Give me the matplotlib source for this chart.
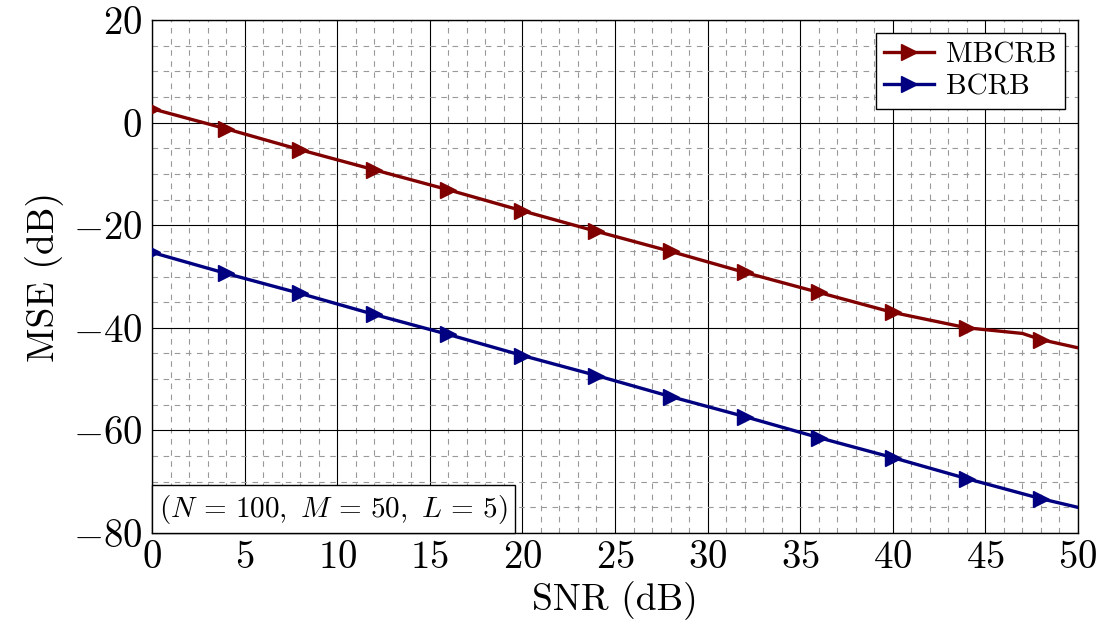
import numpy as np
import matplotlib.pyplot as plt
from matplotlib.ticker import MultipleLocator, FuncFormatter
from matplotlib.offsetbox import AnchoredText

plt.rcParams['font.family'] = 'cmr10'
plt.rcParams['mathtext.fontset'] = 'cm'
plt.rcParams['axes.formatter.use_mathtext'] = True

# SNR grid and bound values (dB)
snr_mb = [0, 4, 8, 12, 16, 20, 24, 28, 32, 36, 40, 44, 47, 48, 50]
mbcrb = [2.7, -1.2, -5.3, -9.2, -13.1, -17.2, -21.2, -25.1, -29.2, -33.1, -37.0, -40.0, -41.1, -42.3, -43.9]
mb_marks = [0, 1, 2, 3, 4, 5, 6, 7, 8, 9, 10, 11, 13]

snr_b = [0, 4, 8, 12, 16, 20, 24, 28, 32, 36, 40, 44, 48, 50]
bcrb = [-25.3, -29.4, -33.3, -37.4, -41.3, -45.4, -49.3, -53.4, -57.3, -61.4, -65.3, -69.4, -73.3, -75.0]
b_marks = list(range(13))

red = '#800000'
blue = '#000080'

fig = plt.figure(figsize=(11.07, 6.32), dpi=100)
ax = fig.add_axes([0.1373, 0.1566, 0.8365, 0.8118])

ax.plot(snr_mb, mbcrb, color=red, lw=2.4, marker='>', ms=11, markevery=mb_marks, label='MBCRB', zorder=3)
ax.plot(snr_b, bcrb, color=blue, lw=2.4, marker='>', ms=11, markevery=b_marks, label='BCRB', zorder=3)

ax.set_xlim(0, 50)
ax.set_ylim(-80, 20)
ax.xaxis.set_major_locator(MultipleLocator(5))
ax.xaxis.set_minor_locator(MultipleLocator(1))
ax.yaxis.set_major_locator(MultipleLocator(20))
ax.yaxis.set_minor_locator(MultipleLocator(5))
fmt = FuncFormatter(lambda v, p: f'${v:g}$')
ax.xaxis.set_major_formatter(fmt)
ax.yaxis.set_major_formatter(fmt)

ax.grid(which='major', color='black', lw=0.8, ls='-')
ax.grid(which='minor', color='#999999', lw=0.8, ls=(0, (5, 5)))
ax.set_axisbelow(True)
ax.tick_params(which='both', direction='in', labelsize=28, length=0)
ax.tick_params(axis='y', pad=7)
ax.tick_params(axis='x', pad=5)
for s in ax.spines.values():
    s.set_linewidth(1.0)

ax.set_xlabel('SNR (dB)', fontsize=27, labelpad=4)
ax.set_ylabel('MSE (dB)', fontsize=27, labelpad=6)

leg = ax.legend(loc='upper right', fontsize=21, frameon=True, fancybox=False,
                edgecolor='black', framealpha=1, handlelength=1.7, borderpad=0.3,
                labelspacing=0.2, handletextpad=0.4, borderaxespad=0.45)
leg.get_frame().set_linewidth(1.0)

box = AnchoredText(r'$(N\,=\,100,\ M\,=\,50,\ L\,=\,5)$', loc='lower left', prop=dict(size=21),
                   frameon=True, pad=0.25, borderpad=0.0)
box.patch.set_edgecolor('black')
box.patch.set_linewidth(1.0)
ax.add_artist(box)

fig.savefig('out.png', dpi=100)
